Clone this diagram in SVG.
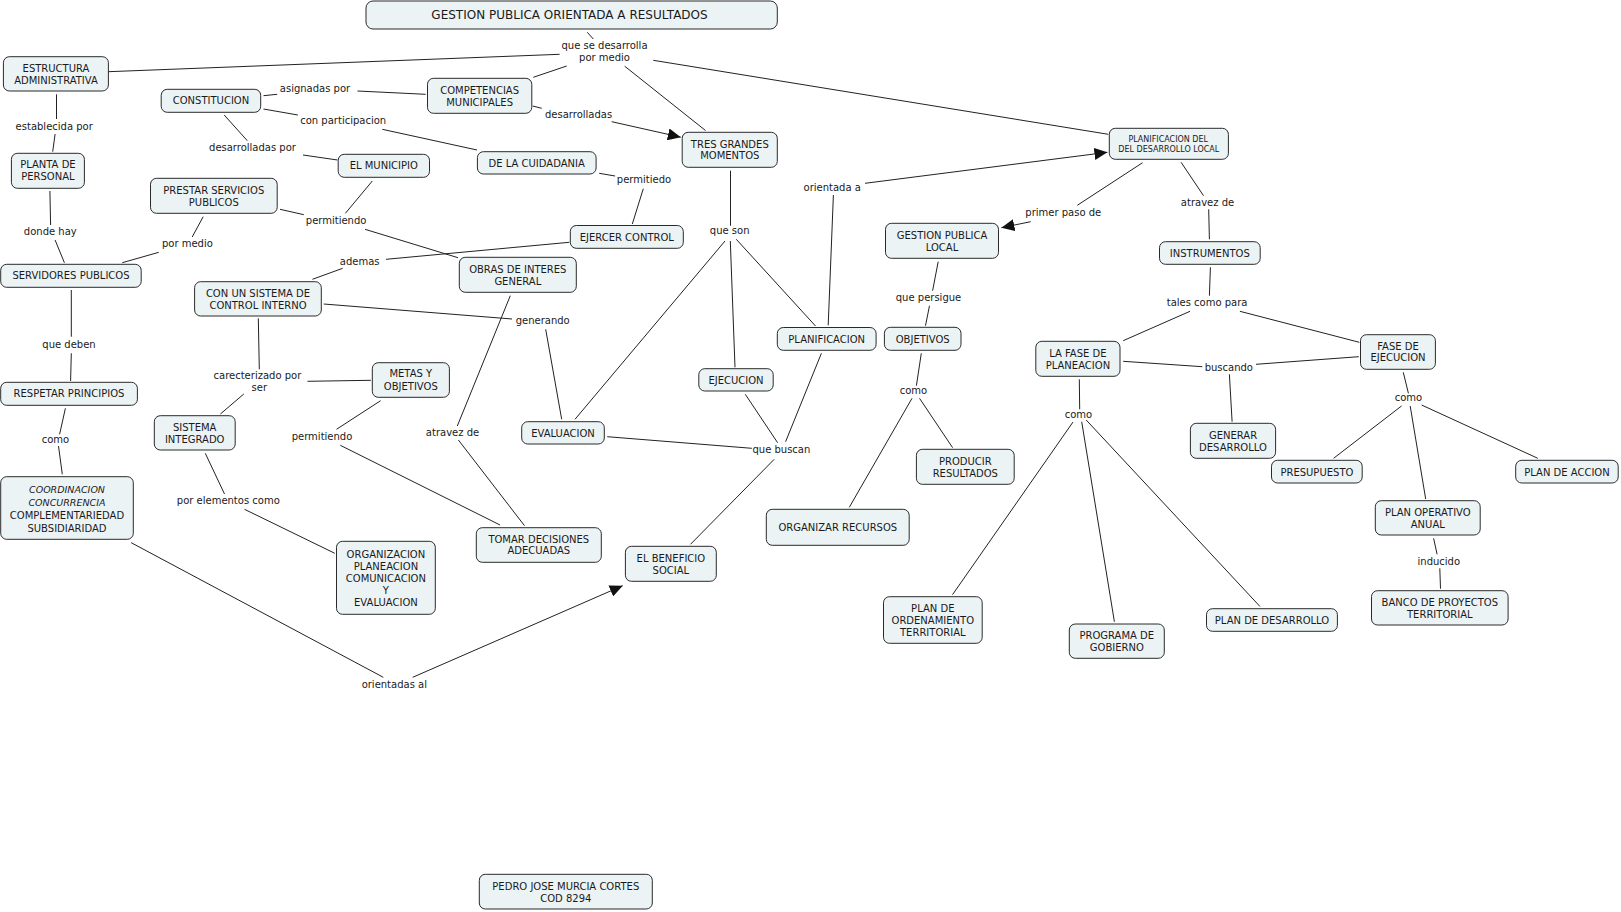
<svg xmlns="http://www.w3.org/2000/svg" width="1621" height="912" viewBox="0 0 1621 912">
<style>
.n rect{fill:#ecf3f5;stroke:#2a2a2a;stroke-width:1}
.n text{font-family:"DejaVu Sans","Liberation Sans",sans-serif;font-size:10px;fill:#1a1a1a;text-anchor:middle}
.c line{stroke:#222;stroke-width:1}
.l text{font-family:"DejaVu Sans","Liberation Sans",sans-serif;font-size:10px;fill:#1a1a1a;text-anchor:middle}
.i{font-style:italic;font-size:9.5px}
</style>
<defs>
<marker id="ar" markerUnits="userSpaceOnUse" markerWidth="14" markerHeight="12" refX="13" refY="6" orient="auto">
<path d="M0,0 L13,6 L0,12 z" fill="#111"/>
</marker>
</defs>
<rect width="1621" height="912" fill="#fff"/>
<g id="connectors" class="c">
<line x1="108.5" y1="71.7" x2="559.6" y2="54.3"/>
<line x1="56.5" y1="94.3" x2="56.5" y2="119"/>
<line x1="55.1" y1="134" x2="52.7" y2="151.7"/>
<line x1="49.9" y1="191" x2="50.6" y2="225"/>
<line x1="55.1" y1="240" x2="64.4" y2="262.7"/>
<line x1="263.5" y1="95.7" x2="277.2" y2="94.3"/>
<line x1="357.5" y1="91" x2="425.7" y2="94.3"/>
<line x1="263.5" y1="109" x2="297.9" y2="115"/>
<line x1="382.3" y1="129.3" x2="477" y2="150"/>
<line x1="224.2" y1="115" x2="247.3" y2="140.7"/>
<line x1="303" y1="155" x2="337.5" y2="160"/>
<line x1="372.3" y1="181" x2="345.4" y2="213.3"/>
<line x1="280" y1="209.3" x2="303.8" y2="214.7"/>
<line x1="365" y1="229.3" x2="458" y2="257.7"/>
<line x1="203.2" y1="216.7" x2="192.2" y2="237"/>
<line x1="158.8" y1="252.3" x2="122.3" y2="262.7"/>
<line x1="569.3" y1="242.3" x2="386" y2="259.3"/>
<line x1="342.7" y1="268.3" x2="312.4" y2="279.3"/>
<line x1="323.7" y1="304" x2="512" y2="319"/>
<line x1="510.3" y1="295.7" x2="457.3" y2="426"/>
<line x1="458.4" y1="440" x2="524.5" y2="525.7"/>
<line x1="545.7" y1="329.3" x2="561.7" y2="419.3"/>
<line x1="725" y1="241" x2="575" y2="419.3"/>
<line x1="730.5" y1="170.7" x2="730.5" y2="225.7"/>
<line x1="730.3" y1="241" x2="735" y2="367.3"/>
<line x1="736.3" y1="239.3" x2="815.5" y2="326"/>
<line x1="828.2" y1="325.3" x2="833.4" y2="195"/>
<line x1="865" y1="183.3" x2="1107.4" y2="152.3" marker-end="url(#ar)"/>
<line x1="1142.6" y1="162.7" x2="1077.3" y2="205.3"/>
<line x1="1030.7" y1="221.7" x2="1001.4" y2="227.7" marker-end="url(#ar)"/>
<line x1="938.2" y1="261.7" x2="932.6" y2="290.7"/>
<line x1="929.5" y1="305.7" x2="925.5" y2="325.7"/>
<line x1="1181.1" y1="162.3" x2="1203.5" y2="195.7"/>
<line x1="1208.7" y1="209.3" x2="1209.4" y2="239.3"/>
<line x1="1210.4" y1="267.3" x2="1209.4" y2="295.7"/>
<line x1="1190" y1="311.3" x2="1123.2" y2="340.7"/>
<line x1="1239.9" y1="311.3" x2="1359.3" y2="342.3"/>
<line x1="1123.2" y1="361.3" x2="1202.3" y2="366.7"/>
<line x1="1358.8" y1="356.7" x2="1256" y2="364.3"/>
<line x1="1229.4" y1="374.3" x2="1232.1" y2="421.7"/>
<line x1="1079.3" y1="379.3" x2="1079.7" y2="409.3"/>
<line x1="1073" y1="422" x2="952.5" y2="594.7"/>
<line x1="1081.7" y1="421.7" x2="1114.4" y2="621.7"/>
<line x1="1086.2" y1="420" x2="1260" y2="606.5"/>
<line x1="1403.3" y1="372.3" x2="1408.4" y2="393.3"/>
<line x1="1401.5" y1="406" x2="1333.6" y2="458.3"/>
<line x1="1410.2" y1="406" x2="1425.7" y2="499"/>
<line x1="1421.6" y1="405" x2="1537.8" y2="458.3"/>
<line x1="1433.6" y1="538.3" x2="1437.1" y2="554.3"/>
<line x1="1439.8" y1="568.3" x2="1440.5" y2="588.7"/>
<line x1="921.3" y1="353.3" x2="916.4" y2="385.7"/>
<line x1="912" y1="398.3" x2="849.3" y2="507.3"/>
<line x1="919.5" y1="398.3" x2="952.6" y2="447.7"/>
<line x1="745.3" y1="394.3" x2="777.6" y2="442.7"/>
<line x1="821.4" y1="353.3" x2="785.6" y2="441.7"/>
<line x1="607.2" y1="436.7" x2="751.8" y2="448.3"/>
<line x1="774.2" y1="459.3" x2="690.5" y2="544.3"/>
<line x1="131.2" y1="542.7" x2="383.3" y2="677.3"/>
<line x1="412.7" y1="677.3" x2="622.7" y2="585.7" marker-end="url(#ar)"/>
<line x1="566.7" y1="66" x2="533.3" y2="77.3"/>
<line x1="624.7" y1="66.2" x2="705.5" y2="130.5"/>
<line x1="653.3" y1="60.3" x2="1108.3" y2="134.3"/>
<line x1="587.3" y1="32.3" x2="593.3" y2="39"/>
<line x1="532.7" y1="106" x2="541.7" y2="108.3"/>
<line x1="611.7" y1="121.7" x2="680.8" y2="137.2" marker-end="url(#ar)"/>
<line x1="599.2" y1="173.3" x2="615.1" y2="176"/>
<line x1="643.3" y1="188.7" x2="632.3" y2="224"/>
<line x1="71.3" y1="290" x2="71.3" y2="336.7"/>
<line x1="71.3" y1="353.3" x2="70.6" y2="381"/>
<line x1="65.4" y1="408.3" x2="59.6" y2="434.3"/>
<line x1="58.5" y1="446" x2="62.3" y2="474.3"/>
<line x1="258.3" y1="318.3" x2="259.3" y2="369.3"/>
<line x1="307.5" y1="381.3" x2="370.9" y2="380.3"/>
<line x1="243.8" y1="394" x2="220.4" y2="414"/>
<line x1="205.3" y1="453.3" x2="224.5" y2="494"/>
<line x1="244.5" y1="509.3" x2="334.8" y2="553.3"/>
<line x1="380.6" y1="400.7" x2="336.5" y2="429.3"/>
<line x1="340.3" y1="445.3" x2="500.1" y2="525"/>
</g>
<g id="link-labels" class="l">
<text x="604.5" y="48.5">que se desarrolla<tspan x="604.5" dy="12">por medio</tspan></text>
<text x="54.2" y="129.5">establecida por</text>
<text x="50.3" y="234.5">donde hay</text>
<text x="315" y="91.8">asignadas por</text>
<text x="343.2" y="123.5">con participacion</text>
<text x="252.5" y="150.5">desarrolladas por</text>
<text x="336.1" y="223.5">permitiendo</text>
<text x="187.4" y="246.5">por medio</text>
<text x="359.7" y="264.5">ademas</text>
<text x="578.6" y="117.5">desarrolladas</text>
<text x="644" y="182.8">permitiedo</text>
<text x="729.7" y="233.8">que son</text>
<text x="832.2" y="190.8">orientada a</text>
<text x="928.5" y="300.5">que persigue</text>
<text x="1063.3" y="215.8">primer paso de</text>
<text x="1207.5" y="205.5">atravez de</text>
<text x="1207.1" y="305.5">tales como para</text>
<text x="69" y="347.5">que deben</text>
<text x="55.5" y="442.5">como</text>
<text x="257.4" y="378.5">carecterizado por<tspan x="259.3" dy="12">ser</tspan></text>
<text x="322" y="439.5">permitiendo</text>
<text x="452.5" y="435.8">atravez de</text>
<text x="228.3" y="503.8">por elementos como</text>
<text x="542.7" y="323.5">generando</text>
<text x="781.4" y="452.5">que buscan</text>
<text x="913.5" y="393.8">como</text>
<text x="1228.8" y="370.5">buscando</text>
<text x="1408.5" y="400.8">como</text>
<text x="1438.8" y="564.5">inducido</text>
<text x="1078.5" y="417.8">como</text>
<text x="394.3" y="687.8">orientadas al</text>
</g>
<g id="n-title" class="n"><rect x="366" y="1" width="411.3" height="28" rx="7"/><text x="569.5" y="19.4" style="font-size:12px">GESTION PUBLICA ORIENTADA A RESULTADOS</text></g>
<g id="n-estructura" class="n"><rect x="3.4" y="56.7" width="105" height="34.3" rx="6"/><text x="56" y="71.6">ESTRUCTURA<tspan x="56" dy="12">ADMINISTRATIVA</tspan></text></g>
<g id="n-constitucion" class="n"><rect x="161.2" y="89.3" width="99.5" height="23" rx="6"/><text x="211" y="104.3">CONSTITUCION</text></g>
<g id="n-competencias" class="n"><rect x="427.5" y="78.3" width="104.3" height="35" rx="6"/><text x="479.6" y="93.6">COMPETENCIAS<tspan x="479.6" dy="12">MUNICIPALES</tspan></text></g>
<g id="n-planta" class="n"><rect x="11.4" y="153.3" width="73" height="35" rx="6"/><text x="47.9" y="168.3">PLANTA DE<tspan x="47.9" dy="12">PERSONAL</tspan></text></g>
<g id="n-municipio" class="n"><rect x="338.2" y="154.3" width="91.3" height="23" rx="6"/><text x="383.8" y="169.3">EL MUNICIPIO</text></g>
<g id="n-cuidadania" class="n"><rect x="477.4" y="151.7" width="118.7" height="22.3" rx="6"/><text x="536.7" y="166.6">DE LA CUIDADANIA</text></g>
<g id="n-prestar" class="n"><rect x="150.5" y="178.3" width="126.7" height="35" rx="6"/><text x="213.8" y="193.6">PRESTAR SERVICIOS<tspan x="213.8" dy="12">PUBLICOS</tspan></text></g>
<g id="n-servidores" class="n"><rect x="0.7" y="264.3" width="140.5" height="23" rx="6"/><text x="71" y="279.3">SERVIDORES PUBLICOS</text></g>
<g id="n-control" class="n"><rect x="194.6" y="281.7" width="126.7" height="34.3" rx="6"/><text x="258" y="296.9">CON UN SISTEMA DE<tspan x="258" dy="11.8">CONTROL INTERNO</tspan></text></g>
<g id="n-obras" class="n"><rect x="459.3" y="257.3" width="117" height="35" rx="6"/><text x="517.8" y="272.9">OBRAS DE INTERES<tspan x="517.8" dy="12">GENERAL</tspan></text></g>
<g id="n-tres" class="n"><rect x="682.2" y="132.3" width="95.1" height="35" rx="6"/><text x="729.8" y="147.6">TRES GRANDES<tspan x="729.8" dy="11.8">MOMENTOS</tspan></text></g>
<g id="n-ejercer" class="n"><rect x="570.3" y="225.5" width="113" height="22.8" rx="6"/><text x="626.8" y="240.6">EJERCER CONTROL</text></g>
<g id="n-gpl" class="n"><rect x="885.5" y="223.3" width="113" height="35" rx="6"/><text x="942" y="238.9">GESTION PUBLICA<tspan x="942" dy="12">LOCAL</tspan></text></g>
<g id="n-pdl" class="n"><rect x="1109.3" y="128.3" width="119.1" height="31" rx="6"/><text x="1168.2" y="141.9" style="font-size:8px">PLANIFICACION DEL<tspan x="1168.8" dy="9.8">DEL DESARROLLO LOCAL</tspan></text></g>
<g id="n-instrumentos" class="n"><rect x="1159.5" y="241.7" width="100.7" height="22.6" rx="6"/><text x="1209.8" y="256.6">INSTRUMENTOS</text></g>
<g id="n-planificacion" class="n"><rect x="777.3" y="327.5" width="98.8" height="22.8" rx="6"/><text x="826.7" y="342.6">PLANIFICACION</text></g>
<g id="n-objetivos" class="n"><rect x="884.4" y="327.3" width="76.6" height="23" rx="6"/><text x="922.7" y="342.6">OBJETIVOS</text></g>
<g id="n-fase-planeacion" class="n"><rect x="1035.8" y="341.3" width="84.2" height="35" rx="6"/><text x="1077.9" y="356.6">LA FASE DE<tspan x="1077.9" dy="12">PLANEACION</tspan></text></g>
<g id="n-fase-ejecucion" class="n"><rect x="1360.5" y="334.7" width="74.9" height="34.6" rx="6"/><text x="1398" y="349.6">FASE DE<tspan x="1398" dy="11.7">EJECUCION</tspan></text></g>
<g id="n-generar" class="n"><rect x="1190.4" y="423.3" width="85.2" height="35" rx="6"/><text x="1233" y="438.6">GENERAR<tspan x="1233" dy="12">DESARROLLO</tspan></text></g>
<g id="n-presupuesto" class="n"><rect x="1271.5" y="460.3" width="90.7" height="22.7" rx="6"/><text x="1316.9" y="475.6">PRESUPUESTO</text></g>
<g id="n-plan-accion" class="n"><rect x="1515.7" y="460.3" width="102.5" height="22.7" rx="6"/><text x="1567" y="475.6">PLAN DE ACCION</text></g>
<g id="n-poa" class="n"><rect x="1375.3" y="500.7" width="104.9" height="34.3" rx="6"/><text x="1427.8" y="515.9">PLAN OPERATIVO<tspan x="1427.8" dy="11.7">ANUAL</tspan></text></g>
<g id="n-banco" class="n"><rect x="1371.5" y="590.7" width="136.6" height="34.3" rx="6"/><text x="1439.8" y="605.6">BANCO DE PROYECTOS<tspan x="1439.8" dy="12">TERRITORIAL</tspan></text></g>
<g id="n-plan-desarrollo" class="n"><rect x="1206.5" y="608.7" width="130.9" height="22.6" rx="6"/><text x="1272" y="623.6">PLAN DE DESARROLLO</text></g>
<g id="n-programa" class="n"><rect x="1069.3" y="624" width="95" height="34.3" rx="6"/><text x="1116.8" y="638.9">PROGRAMA DE<tspan x="1116.8" dy="12">GOBIERNO</tspan></text></g>
<g id="n-pot" class="n"><rect x="883.5" y="596.7" width="98.7" height="46.6" rx="6"/><text x="932.8" y="611.9">PLAN DE<tspan x="932.8" dy="12">ORDENAMIENTO</tspan><tspan x="932.8" dy="12">TERRITORIAL</tspan></text></g>
<g id="n-ejecucion" class="n"><rect x="698.8" y="368.7" width="74.4" height="22.3" rx="6"/><text x="736" y="383.6">EJECUCION</text></g>
<g id="n-evaluacion" class="n"><rect x="521.7" y="421.7" width="82.6" height="22.3" rx="6"/><text x="563" y="436.6">EVALUACION</text></g>
<g id="n-organizar" class="n"><rect x="766.3" y="509.3" width="142.9" height="36" rx="6"/><text x="837.8" y="530.6">ORGANIZAR RECURSOS</text></g>
<g id="n-producir" class="n"><rect x="916.4" y="449.3" width="97.8" height="35" rx="6"/><text x="965.3" y="464.6">PRODUCIR<tspan x="965.3" dy="12">RESULTADOS</tspan></text></g>
<g id="n-beneficio" class="n"><rect x="625.4" y="546.3" width="90.9" height="35" rx="6"/><text x="670.9" y="561.6">EL BENEFICIO<tspan x="670.9" dy="12">SOCIAL</tspan></text></g>
<g id="n-tomar" class="n"><rect x="476.3" y="527.7" width="125" height="34.6" rx="6"/><text x="538.8" y="542.6">TOMAR DECISIONES<tspan x="538.8" dy="11.7">ADECUADAS</tspan></text></g>
<g id="n-respetar" class="n"><rect x="0.7" y="382.3" width="136.7" height="23" rx="6"/><text x="69" y="397.3">RESPETAR PRINCIPIOS</text></g>
<g id="n-sistema" class="n"><rect x="154.3" y="415.7" width="80.9" height="34.3" rx="6"/><text x="194.7" y="430.6">SISTEMA<tspan x="194.7" dy="12">INTEGRADO</tspan></text></g>
<g id="n-metas" class="n"><rect x="372.3" y="362.7" width="77.1" height="34.6" rx="6"/><text x="410.8" y="377.3">METAS Y<tspan x="410.8" dy="12.3">OBJETIVOS</tspan></text></g>
<g id="n-coordinacion" class="n"><rect x="0.7" y="476.7" width="132.6" height="62.6" rx="6"/><text x="67" y="492.9"><tspan class="i">COORDINACION</tspan><tspan class="i" x="67" dy="13.4">CONCURRENCIA</tspan><tspan x="67" dy="13">COMPLEMENTARIEDAD</tspan><tspan x="67" dy="12.3">SUBSIDIARIDAD</tspan></text></g>
<g id="n-organizacion" class="n"><rect x="336.5" y="541.3" width="98.8" height="73" rx="6"/><text x="385.9" y="557.6">ORGANIZACION<tspan x="385.9" dy="12.3">PLANEACION</tspan><tspan x="385.9" dy="12">COMUNICACION</tspan><tspan x="385.9" dy="12">Y</tspan><tspan x="385.9" dy="12.4">EVALUACION</tspan></text></g>
<g id="n-pedro" class="n"><rect x="479.3" y="874.3" width="173" height="34.7" rx="6"/><text x="565.8" y="889.9">PEDRO JOSE MURCIA CORTES<tspan x="565.8" dy="11.7">COD 8294</tspan></text></g>
</svg>
